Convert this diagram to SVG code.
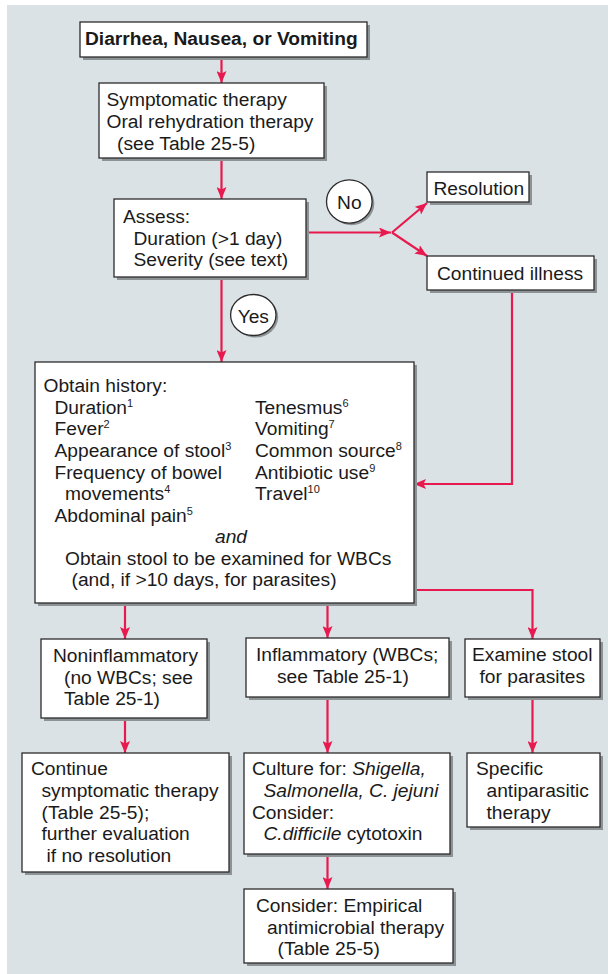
<svg xmlns="http://www.w3.org/2000/svg" width="608" height="974" viewBox="0 0 608 974">
<defs>
<style>
.bg{fill:#dbe2e5}
.sh{fill:#8d9295}
.bx{fill:#ffffff;stroke:#2b2b2b;stroke-width:1.3}
.t{font-family:"Liberation Sans",Arial,sans-serif;font-size:19.2px;fill:#1a1a1a}
.b{font-weight:bold}
.i{font-style:italic}
.sup{font-size:11px}
.c{text-anchor:middle}
.ln{fill:none;stroke:#e8194e;stroke-width:2.2;marker-end:url(#ah)}
</style>
<marker id="ah" markerUnits="userSpaceOnUse" markerWidth="13" markerHeight="10" refX="12" refY="5" orient="auto">
<path d="M0,0 L12,5 L0,10 L2.5,5 z" fill="#e8194e"/>
</marker>
</defs>
<rect class="bg" x="7" y="5" width="601" height="969"/>

<g id="connectors">
<path class="ln" d="M221.5,57 L221.5,83"/>
<path class="ln" d="M221.5,158 L221.5,199"/>
<path class="ln" d="M306,232.5 L391,232.5"/>
<path class="ln" d="M392,232.5 L427,203"/>
<path class="ln" d="M392,232.5 L427,256"/>
<path class="ln" d="M512,290 L512,484 L414,484"/>
<path class="ln" d="M221.5,277 L221.5,362"/>
<path class="ln" d="M125,603 L125,639"/>
<path class="ln" d="M327.5,603 L327.5,638"/>
<path class="ln" d="M414,590 L532.5,590 L532.5,639"/>
<path class="ln" d="M125,718 L125,753"/>
<path class="ln" d="M327.5,697 L327.5,753"/>
<path class="ln" d="M532.5,697 L532.5,753"/>
<path class="ln" d="M327.5,854 L327.5,889"/>
</g>

<g id="title">
<rect class="sh" x="83" y="25" width="287" height="35"/>
<rect class="bx" x="80" y="22" width="287" height="35"/>
<text class="t b" x="85" y="44.5">Diarrhea, Nausea, or Vomiting</text>
</g>

<g id="symptomatic">
<rect class="sh" x="102" y="86" width="225" height="75"/>
<rect class="bx" x="99" y="83" width="225" height="75"/>
<text class="t" x="106.5" y="106">Symptomatic therapy</text>
<text class="t" x="106.5" y="128">Oral rehydration therapy</text>
<text class="t" x="117" y="150">(see Table 25-5)</text>
</g>

<g id="assess">
<rect class="sh" x="117" y="202" width="192" height="78"/>
<rect class="bx" x="114" y="199" width="192" height="78"/>
<text class="t" x="123" y="222.5">Assess:</text>
<text class="t" x="133.5" y="244.5">Duration (&gt;1 day)</text>
<text class="t" x="133.5" y="266">Severity (see text)</text>
</g>

<g id="no">
<ellipse class="sh" cx="351.5" cy="203.5" rx="22.8" ry="21.7"/>
<ellipse class="bx" cx="349.3" cy="201.5" rx="22.8" ry="21.7"/>
<text class="t c" x="349.3" y="208.5">No</text>
</g>

<g id="resolution">
<rect class="sh" x="430" y="175" width="102" height="30"/>
<rect class="bx" x="427" y="172" width="102" height="30"/>
<text class="t" x="433.5" y="195">Resolution</text>
</g>

<g id="continued">
<rect class="sh" x="430" y="259" width="167" height="34"/>
<rect class="bx" x="427" y="256" width="167" height="34"/>
<text class="t" x="437" y="279.5">Continued illness</text>
</g>

<g id="yes">
<ellipse class="sh" cx="255.5" cy="317" rx="22.7" ry="20.5"/>
<ellipse class="bx" cx="253.3" cy="315" rx="22.7" ry="20.5"/>
<text class="t c" x="253.3" y="322.5">Yes</text>
</g>

<g id="history">
<rect class="sh" x="38" y="365" width="379" height="241"/>
<rect class="bx" x="35" y="362" width="379" height="241"/>
<text class="t" x="43.5" y="391.5">Obtain history:</text>
<text class="t" x="54.5" y="413.5">Duration<tspan class="sup" dy="-7">1</tspan></text>
<text class="t" x="54.5" y="435">Fever<tspan class="sup" dy="-7">2</tspan></text>
<text class="t" x="54.5" y="456.5">Appearance of stool<tspan class="sup" dy="-7">3</tspan></text>
<text class="t" x="54.5" y="478.5">Frequency of bowel</text>
<text class="t" x="65" y="500">movements<tspan class="sup" dy="-7">4</tspan></text>
<text class="t" x="54.5" y="521.5">Abdominal pain<tspan class="sup" dy="-7">5</tspan></text>
<text class="t" x="255" y="413.5">Tenesmus<tspan class="sup" dy="-7">6</tspan></text>
<text class="t" x="255" y="435">Vomiting<tspan class="sup" dy="-7">7</tspan></text>
<text class="t" x="255" y="456.5">Common source<tspan class="sup" dy="-7">8</tspan></text>
<text class="t" x="255" y="478.5">Antibiotic use<tspan class="sup" dy="-7">9</tspan></text>
<text class="t" x="255" y="500">Travel<tspan class="sup" dy="-7">10</tspan></text>
<text class="t i c" x="231" y="543">and</text>
<text class="t" x="65" y="564.5">Obtain stool to be examined for WBCs</text>
<text class="t" x="71.5" y="586">(and, if &gt;10 days, for parasites)</text>
</g>

<g id="noninflammatory">
<rect class="sh" x="44" y="642" width="166" height="79"/>
<rect class="bx" x="41" y="639" width="166" height="79"/>
<text class="t" x="53" y="661.5">Noninflammatory</text>
<text class="t" x="64" y="683.5">(no WBCs; see</text>
<text class="t" x="64" y="705">Table 25-1)</text>
</g>

<g id="inflammatory">
<rect class="sh" x="249" y="641" width="203" height="59"/>
<rect class="bx" x="246" y="638" width="203" height="59"/>
<text class="t" x="256" y="660.5">Inflammatory (WBCs;</text>
<text class="t" x="277" y="682.5">see Table 25-1)</text>
</g>

<g id="examine">
<rect class="sh" x="468" y="642" width="135" height="58"/>
<rect class="bx" x="465" y="639" width="135" height="58"/>
<text class="t" x="472" y="660.5">Examine stool</text>
<text class="t" x="479.5" y="682.5">for parasites</text>
</g>

<g id="continue">
<rect class="sh" x="25" y="756" width="207" height="119"/>
<rect class="bx" x="22" y="753" width="207" height="119"/>
<text class="t" x="31" y="775">Continue</text>
<text class="t" x="41.5" y="797">symptomatic therapy</text>
<text class="t" x="41.5" y="818.5">(Table 25-5);</text>
<text class="t" x="41.5" y="840">further evaluation</text>
<text class="t" x="46.5" y="861.5">if no resolution</text>
</g>

<g id="culture">
<rect class="sh" x="247" y="756" width="206" height="101"/>
<rect class="bx" x="244" y="753" width="206" height="101"/>
<text class="t" x="252" y="775">Culture for: <tspan class="i">Shigella,</tspan></text>
<text class="t i" x="263.5" y="797">Salmonella, C. jejuni</text>
<text class="t" x="252" y="818.5">Consider:</text>
<text class="t" x="263.5" y="840"><tspan class="i">C.difficile</tspan> cytotoxin</text>
</g>

<g id="specific">
<rect class="sh" x="470" y="756" width="133" height="74"/>
<rect class="bx" x="467" y="753" width="133" height="74"/>
<text class="t" x="476" y="775">Specific</text>
<text class="t" x="486.5" y="797">antiparasitic</text>
<text class="t" x="486.5" y="818.5">therapy</text>
</g>

<g id="consider">
<rect class="sh" x="247" y="892" width="209" height="74"/>
<rect class="bx" x="244" y="889" width="209" height="74"/>
<text class="t" x="256" y="911.5">Consider: Empirical</text>
<text class="t" x="267" y="933.5">antimicrobial therapy</text>
<text class="t" x="277.5" y="955">(Table 25-5)</text>
</g>
</svg>
